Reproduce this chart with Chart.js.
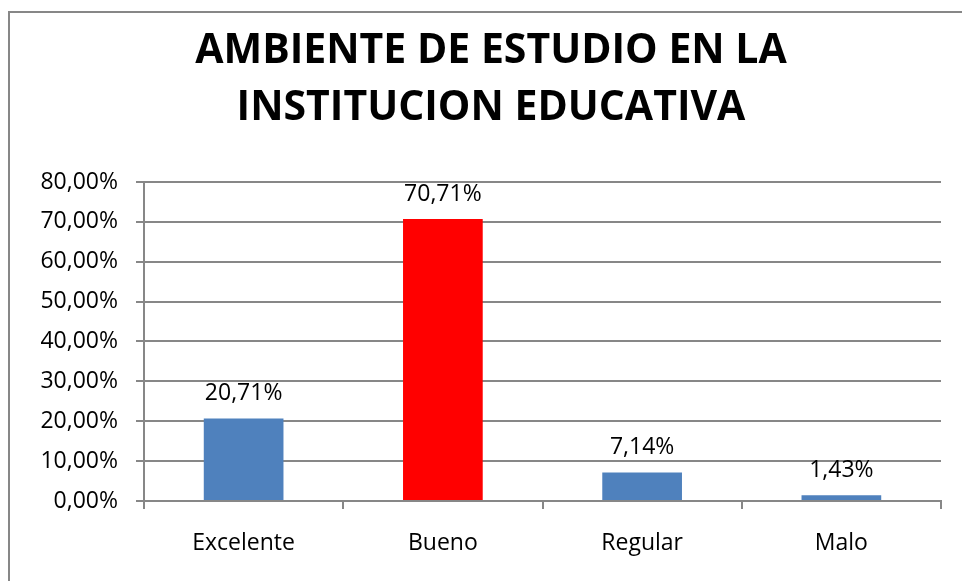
<!DOCTYPE html>
<html lang="es">
<head>
    <meta charset="UTF-8">
    <title>Ambiente de estudio</title>
    <style>
        body {
            margin: 0;
            background: #fff;
            overflow: hidden;
        }
        .chart-box {
            width: 962px;
            height: 581px;
        }
    </style>
    <script src="https://cdn.jsdelivr.net/npm/chart.js"></script>
</head>
<body>
    <div class="chart-box">
        <canvas id="ambienteChart" width="962" height="581"></canvas>
    </div>
    <script>
        const categorias = ['Excelente', 'Bueno', 'Regular', 'Malo'];
        const porcentajes = [20.71, 70.71, 7.14, 1.43];
        const colores = ['#4F81BD', '#FF0000', '#4F81BD', '#4F81BD'];
        const titulo = ['AMBIENTE DE ESTUDIO EN LA', 'INSTITUCION EDUCATIVA'];

        const gris = '#878787';

        function formato(v) {
            return v.toFixed(2).replace('.', ',') + '%';
        }

        // marco exterior del gráfico (sólo se ven los bordes superior e izquierdo)
        const marco = {
            id: 'marco',
            beforeDraw(chart) {
                const ctx = chart.ctx;
                ctx.save();
                ctx.fillStyle = '#fff';
                ctx.fillRect(0, 0, chart.width, chart.height);
                ctx.strokeStyle = gris;
                ctx.lineWidth = 2;
                ctx.strokeRect(9, 12, 1000, 1000);
                ctx.restore();
            }
        };

        // etiquetas de valor encima de cada barra
        const etiquetas = {
            id: 'etiquetas',
            afterDatasetsDraw(chart) {
                const ctx = chart.ctx;
                const meta = chart.getDatasetMeta(0);
                ctx.save();
                ctx.font = '23px "Open Sans"';
                ctx.fillStyle = '#000';
                ctx.textAlign = 'center';
                ctx.textBaseline = 'middle';
                meta.data.forEach((bar, i) => {
                    ctx.fillText(formato(porcentajes[i]), bar.x, bar.y - 25);
                });
                ctx.restore();
            }
        };

        new Chart(document.getElementById('ambienteChart'), {
            type: 'bar',
            data: {
                labels: categorias,
                datasets: [{
                    data: porcentajes,
                    backgroundColor: colores,
                    borderWidth: 0,
                    barPercentage: 0.4,
                    categoryPercentage: 1
                }]
            },
            options: {
                responsive: false,
                animation: false,
                layout: {
                    padding: { left: 41, right: 21, top: 0, bottom: 0 }
                },
                plugins: {
                    legend: { display: false },
                    tooltip: { enabled: false },
                    title: {
                        display: true,
                        text: titulo,
                        color: '#000',
                        font: { family: 'Open Sans', size: 41, weight: 'bold', lineHeight: 1.39 },
                        padding: { top: 23, bottom: 45 }
                    }
                },
                scales: {
                    x: {
                        afterFit(scale) { scale.height = 80; },
                        grid: {
                            offset: true,
                            drawOnChartArea: false,
                            drawTicks: true,
                            tickLength: 8,
                            color: gris,
                            lineWidth: 2
                        },
                        border: { color: gris, width: 2 },
                        ticks: {
                            color: '#000',
                            padding: 21,
                            font: { family: 'Open Sans', size: 23 }
                        }
                    },
                    y: {
                        min: 0,
                        max: 80,
                        afterFit(scale) { scale.width = 103; },
                        grid: {
                            color: gris,
                            lineWidth: 2,
                            tickLength: 8
                        },
                        border: { color: gris, width: 2 },
                        ticks: {
                            stepSize: 10,
                            color: '#000',
                            padding: 18,
                            font: { family: 'Open Sans', size: 23 },
                            callback: v => formato(v)
                        }
                    }
                }
            },
            plugins: [marco, etiquetas]
        });
    </script>
</body>
</html>
